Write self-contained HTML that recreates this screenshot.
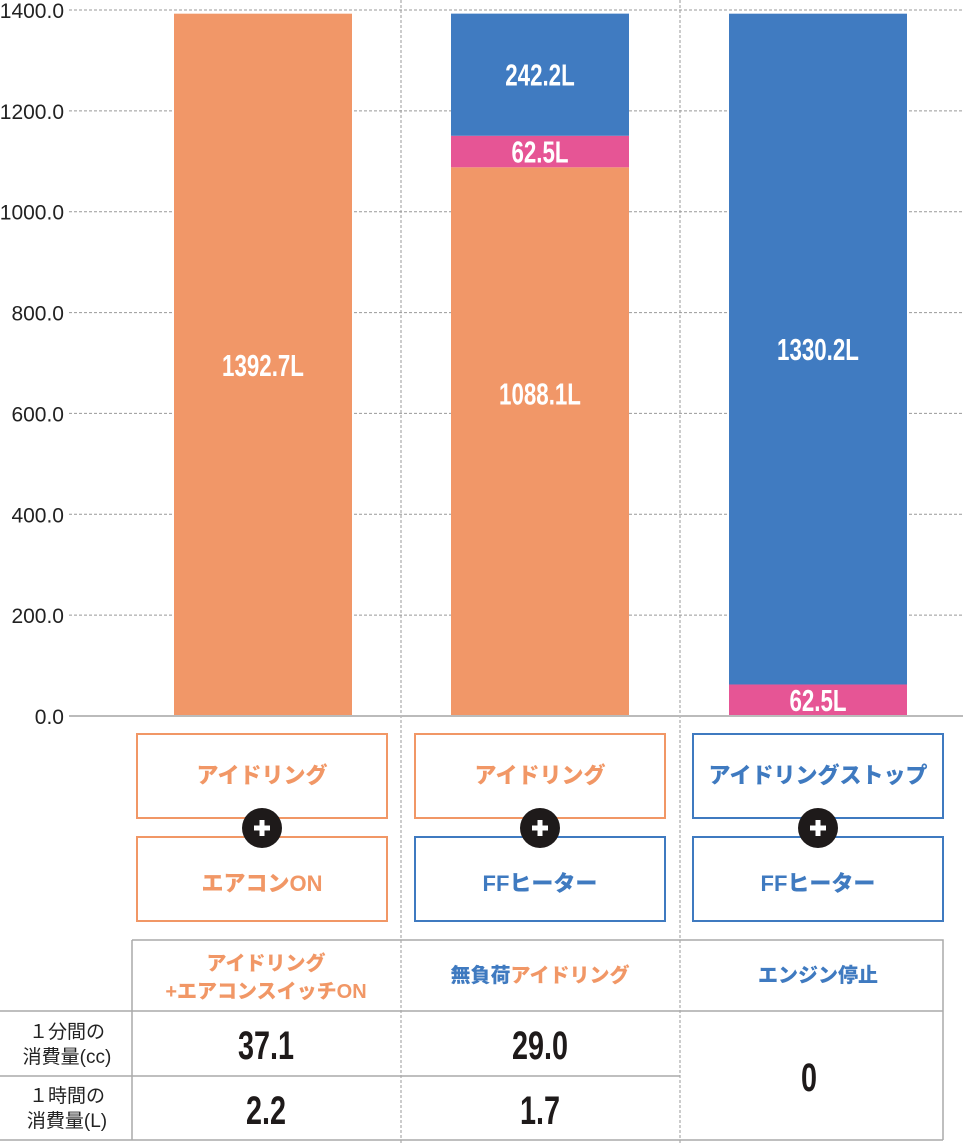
<!DOCTYPE html>
<html><head><meta charset="utf-8">
<style>
body{margin:0;background:#fff;}
svg{display:block;}
.num{font-family:"Liberation Sans Narrow","Liberation Sans",sans-serif;font-weight:bold;}
.jp{font-family:"Liberation Sans","Noto Sans CJK JP",sans-serif;}
</style></head>
<body>
<svg id="chart" width="963" height="1143" xmlns="http://www.w3.org/2000/svg">
<g id="grid"></g>
<g id="bars"></g>
<g id="labels"></g>
<g id="yticks"></g>
<line x1="69" y1="716" x2="963" y2="716" stroke="#bbb" stroke-width="2"/>

<g class="jp" font-weight="900" font-size="22" text-anchor="middle">
 <rect x="137" y="734" width="250" height="84" fill="none" stroke="#f19766" stroke-width="2"/>
 <text x="262" y="783" fill="#f19766">アイドリング</text>
 <rect x="137" y="837" width="250" height="84" fill="none" stroke="#f19766" stroke-width="2"/>
 <text x="262" y="891" fill="#f19766">エアコンON</text>
 <rect x="415" y="734" width="250" height="84" fill="none" stroke="#f19766" stroke-width="2"/>
 <text x="540" y="783" fill="#f19766">アイドリング</text>
 <rect x="415" y="837" width="250" height="84" fill="none" stroke="#3f7ac0" stroke-width="2"/>
 <text x="540" y="891" fill="#3f7ac0">FFヒーター</text>
 <rect x="693" y="734" width="250" height="84" fill="none" stroke="#3f7ac0" stroke-width="2"/>
 <text x="818" y="783" fill="#3f7ac0">アイドリングストップ</text>
 <rect x="693" y="837" width="250" height="84" fill="none" stroke="#3f7ac0" stroke-width="2"/>
 <text x="818" y="891" fill="#3f7ac0">FFヒーター</text>
 <g>
  <circle cx="262" cy="828" r="20" fill="#1e1a1a"/><path d="M254 828h16M262 820v16" stroke="#fff" stroke-width="5"/>
  <circle cx="540" cy="828" r="20" fill="#1e1a1a"/><path d="M532 828h16M540 820v16" stroke="#fff" stroke-width="5"/>
  <circle cx="818" cy="828" r="20" fill="#1e1a1a"/><path d="M810 828h16M818 820v16" stroke="#fff" stroke-width="5"/>
 </g>
</g>

<g>
 <path d="M132 940H943V1140M132 940V1140M0 1011H943M0 1076H680M0 1140H943" fill="none" stroke="#aaa" stroke-width="1.5"/>
 <g class="jp" font-weight="900" font-size="20" text-anchor="middle">
  <text x="266" y="970" fill="#f19766">アイドリング</text>
  <text x="266" y="998" fill="#f19766">+エアコンスイッチON</text>
  <text x="540" y="982"><tspan fill="#3f7ac0">無負荷</tspan><tspan fill="#f19766">アイドリング</tspan></text>
  <text x="818" y="982" fill="#3f7ac0">エンジン停止</text>
 </g>
 <g class="jp" font-size="19" fill="#222" text-anchor="middle">
  <text x="67" y="1038">１分間の</text>
  <text x="67" y="1063">消費量(cc)</text>
  <text x="67" y="1102">１時間の</text>
  <text x="67" y="1127">消費量(L)</text>
 </g>
 <g class="num" font-size="40" fill="#1e1a1a" text-anchor="middle">
  <text x="266" y="1059" transform="translate(266 0) scale(0.72 1) translate(-266 0)">37.1</text>
  <text x="540" y="1059" transform="translate(540 0) scale(0.72 1) translate(-540 0)">29.0</text>
  <text x="266" y="1124" transform="translate(266 0) scale(0.72 1) translate(-266 0)">2.2</text>
  <text x="540" y="1124" transform="translate(540 0) scale(0.72 1) translate(-540 0)">1.7</text>
  <text x="809" y="1091" transform="translate(809 0) scale(0.72 1) translate(-809 0)">0</text>
 </g>
</g>
<script>
const categories=["idling-aircon","idling-ffheater","stop-ffheater"];
const orangeVals=[1392.7,1088.1,0];
const pinkVals=[0,62.5,62.5];
const blueVals=[0,242.2,1330.2];
const yTicks=[0,200,400,600,800,1000,1200,1400];
const NS="http://www.w3.org/2000/svg";
const y0=716,yTop=10,yMax=1400;
function yS(v){return y0-(v/yMax)*(y0-yTop);}
const barX=[174,451,729],barW=178;
const grid=document.getElementById('grid'),bars=document.getElementById('bars'),labels=document.getElementById('labels'),yt=document.getElementById('yticks');
yTicks.forEach(t=>{
 if(t>0){const l=document.createElementNS(NS,'line');
 l.setAttribute('x1',69);l.setAttribute('x2',963);l.setAttribute('y1',yS(t));l.setAttribute('y2',yS(t));
 l.setAttribute('stroke','#999');l.setAttribute('stroke-dasharray','3,2');
 
 
 grid.appendChild(l);}
 const tx=document.createElementNS(NS,'text');
 tx.setAttribute('x',64);tx.setAttribute('y',yS(t)+8);tx.setAttribute('text-anchor','end');
 tx.setAttribute('font-family','"Liberation Sans Narrow","Liberation Sans",sans-serif');tx.setAttribute('font-size','21');tx.setAttribute('fill','#222');
 tx.textContent=t.toFixed(1);
 
 
 yt.appendChild(tx);
});
[401,680].forEach(x=>{const l=document.createElementNS(NS,'line');
 l.setAttribute('x1',x);l.setAttribute('x2',x);l.setAttribute('y1',0);l.setAttribute('y2',1143);
 l.setAttribute('stroke','#999');l.setAttribute('stroke-dasharray','3,2');
 
 
 grid.appendChild(l);});
const series=[[orangeVals,'#f19768','orange'],[pinkVals,'#e65595','pink'],[blueVals,'#407bc1','blue']];
categories.forEach((c,i)=>{
 let base=0;
 series.forEach(([vals,col,nm])=>{
  const v=vals[i]; if(!v) return;
  const r=document.createElementNS(NS,'rect');
  r.setAttribute('x',barX[i]);r.setAttribute('width',barW);
  r.setAttribute('y',yS(base+v));r.setAttribute('height',yS(base)-yS(base+v));r.setAttribute('fill',col);
  
  
  bars.appendChild(r);
  const cx=barX[i]+barW/2;
  let cy=(yS(base)+yS(base+v))/2+11;
  if(nm==='orange' && i===1) cy-=48;
  const t=document.createElementNS(NS,'text');
  t.setAttribute('x',cx);t.setAttribute('y',cy);t.setAttribute('text-anchor','middle');
  t.setAttribute('class','num');t.setAttribute('font-size','31');t.setAttribute('fill','#fff');
  t.setAttribute('transform',`translate(${cx} 0) scale(0.72 1) translate(${-cx} 0)`);
  t.textContent=v.toFixed(1)+'L';
  
  
  labels.appendChild(t);
  base+=v;
 });
});
</script>
</svg>
</body></html>
